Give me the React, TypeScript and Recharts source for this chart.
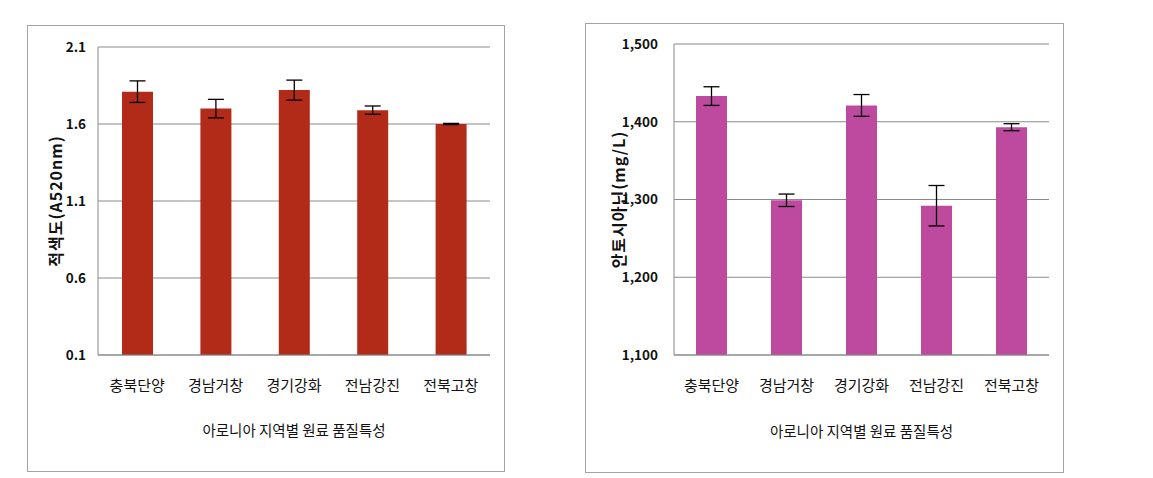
import React from 'react';
import { BarChart, Bar, XAxis, YAxis, CartesianGrid, ErrorBar } from 'recharts';

const regions = ['충북단양', '경남거창', '경기강화', '전남강진', '전북고창'];
const redness = [1.81, 1.7, 1.82, 1.69, 1.6];
const rednessErr = [0.07, 0.06, 0.065, 0.027, 0.004];
const anthocyanin = [1433, 1299, 1421, 1292, 1393];
const anthocyaninErr = [12, 8, 14, 26, 4.5];
const leftTicks = [0.1, 0.6, 1.1, 1.6, 2.1];
const rightTicks = [1100, 1200, 1300, 1400, 1500];
const xTitle = '아로니아 지역별 원료 품질특성';

const font = '"Noto Sans CJK KR", "Noto Sans", sans-serif';
const grid = '#8a8a8a';

type PanelProps = {
  left: number;
  top: number;
  width: number;
  height: number;
  values: number[];
  errors: number[];
  ticks: number[];
  fmt: (v: number) => string;
  color: string;
  yLabel: string;
  yWidth: number;
  labelX: number;
  tickGap: number;
  margin: { top: number; right: number; left: number; bottom: number };
  xHeight: number;
};

function Panel(p: PanelProps) {
  const data = regions.map((r, i) => ({ region: r, value: p.values[i], err: p.errors[i] }));
  return (
    <div
      style={{
        position: 'absolute',
        left: p.left,
        top: p.top,
        width: p.width,
        height: p.height,
        border: '1px solid #a3a3a3',
        boxSizing: 'border-box',
        background: '#fff',
      }}
    >
      <BarChart width={p.width - 2} height={p.height - 2} data={data} margin={p.margin}>
        <CartesianGrid horizontal vertical={false} stroke={grid} strokeWidth={1} />
        <XAxis
          dataKey="region"
          height={p.xHeight}
          axisLine={{ stroke: grid }}
          tickLine={false}
          tickMargin={19}
          tick={{ fill: '#111', fontSize: 15, fontFamily: font }}
          label={{ value: xTitle, position: 'insideBottom', offset: 35, fill: '#111', fontSize: 14.5, fontFamily: font }}
        />
        <YAxis
          width={p.yWidth}
          domain={[p.ticks[0], p.ticks[p.ticks.length - 1]]}
          ticks={p.ticks}
          tickFormatter={p.fmt}
          axisLine={{ stroke: grid }}
          tickLine={false}
          tickMargin={p.tickGap}
          tick={{ fill: '#111', fontSize: 13.5, fontFamily: font, fontWeight: 600 }}
          label={{
            value: p.yLabel,
            angle: -90,
            position: 'insideLeft',
            offset: p.labelX,
            fill: '#111',
            fontSize: 16,
            fontWeight: 700,
            fontFamily: font,
            style: { textAnchor: 'middle', letterSpacing: 1 },
          }}
        />
        <Bar dataKey="value" fill={p.color} barSize={31} isAnimationActive={false}>
          <ErrorBar dataKey="err" width={8} stroke="#000" strokeWidth={1.3} isAnimationActive={false} />
        </Bar>
      </BarChart>
    </div>
  );
}

export default function App() {
  return (
    <div style={{ position: 'absolute', left: 0, top: 0, width: 1153, height: 478, background: '#fff' }}>
      <Panel
        left={27}
        top={25}
        width={478}
        height={447}
        values={redness}
        errors={rednessErr}
        ticks={leftTicks}
        fmt={(v) => v.toFixed(1)}
        color="#B22B18"
        yLabel="적색도(A520nm)"
        yWidth={70}
        labelX={28}
        tickGap={6}
        margin={{ top: 21, right: 14, left: 0, bottom: 0 }}
        xHeight={116}
      />
      <Panel
        left={585}
        top={23}
        width={479}
        height={450}
        values={anthocyanin}
        errors={anthocyaninErr}
        ticks={rightTicks}
        fmt={(v) => v.toLocaleString('en-US')}
        color="#BE4AA0"
        yLabel="안토시아닌(mg/L)"
        yWidth={88}
        labelX={33}
        tickGap={10}
        margin={{ top: 20, right: 14, left: 0, bottom: 0 }}
        xHeight={117}
      />
    </div>
  );
}
